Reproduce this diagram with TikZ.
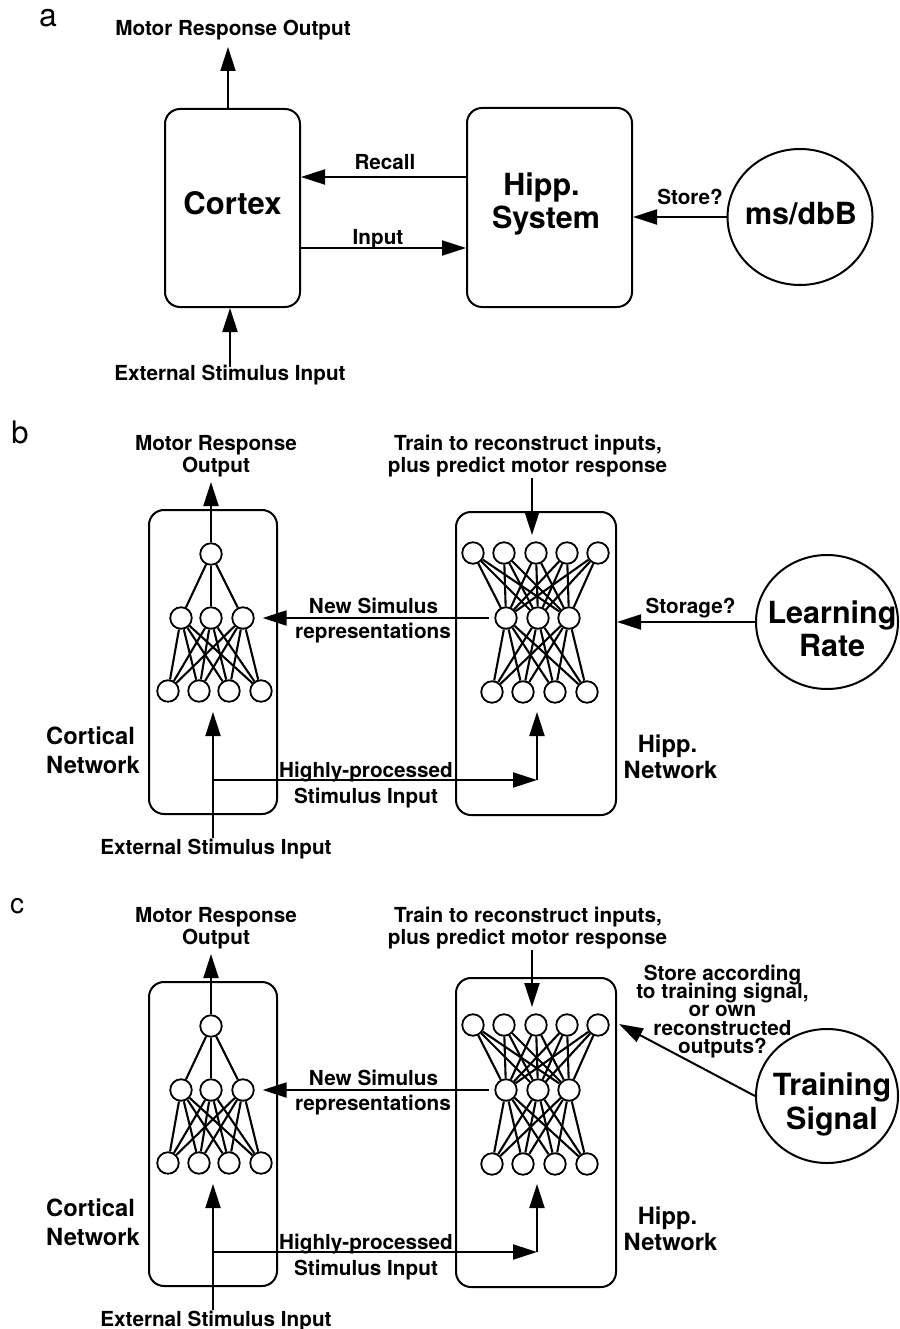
\documentclass[tikz,border=0pt]{standalone}
\usepackage{fontspec}
\setmainfont{TeX Gyre Heros}
\usetikzlibrary{arrows.meta,shapes.geometric}
\newcommand\netpanel[3]{%
  \node[box,minimum width=128pt,minimum height=304pt] (#1cbox) at (213,662) {};
  \node[box,minimum width=160pt,minimum height=#3] (#1hbox) at (536,#2) {};
  % cortical neurons
  \node[neuron] (#1ct) at (211,554) {};
  \node[neuron] (#1cm1) at (181,618) {};
  \node[neuron] (#1cm2) at (211,618) {};
  \node[neuron] (#1cm3) at (243,618) {};
  \node[neuron] (#1cb1) at (168,691) {};
  \node[neuron] (#1cb2) at (199,691) {};
  \node[neuron] (#1cb3) at (229,691) {};
  \node[neuron] (#1cb4) at (261,691) {};
  % hippocampal neurons
  \node[neuron] (#1ht1) at (473,553) {};
  \node[neuron] (#1ht2) at (504,553) {};
  \node[neuron] (#1ht3) at (536,553) {};
  \node[neuron] (#1ht4) at (567,553) {};
  \node[neuron] (#1ht5) at (598,553) {};
  \node[neuron] (#1hm1) at (506,618) {};
  \node[neuron] (#1hm2) at (538,618) {};
  \node[neuron] (#1hm3) at (569,618) {};
  \node[neuron] (#1hb1) at (492,692) {};
  \node[neuron] (#1hb2) at (523,692) {};
  \node[neuron] (#1hb3) at (555,692) {};
  \node[neuron] (#1hb4) at (587,692) {};
  \foreach \ii in {1,2,3}{%
    \draw[conn] (#1ct) -- (#1cm\ii);
    \foreach \jj in {1,2,3,4}{\draw[conn] (#1cm\ii) -- (#1cb\jj);}
    \foreach \jj in {1,2,3,4,5}{\draw[conn] (#1ht\jj) -- (#1hm\ii);}
    \foreach \jj in {1,2,3,4}{\draw[conn] (#1hm\ii) -- (#1hb\jj);}
  }
  % labels
  \node[lbl] (#1mot1) at (216,450) {Motor Response};
  \node[lbl] (#1mot2) at (216,472) {Output};
  \node[lbl] (#1tr1) at (528,450) {Train to reconstruct inputs,};
  \node[lbl] (#1tr2) at (527.5,472) {plus predict motor response};
  \node[lbl] (#1ns1) at (373.5,613) {New Simulus};
  \node[lbl] (#1ns2) at (373,638) {representations};
  \node[lbl] (#1hp1) at (366,777) {Highly-processed};
  \node[lbl] (#1hp2) at (366,803) {Stimulus Input};
  \node[lbl] (#1ext) at (216,854) {External Stimulus Input};
  \node[midlbl,anchor=base west] (#1cn1) at (46,744) {Cortical};
  \node[midlbl,anchor=base west] (#1cn2) at (46,773) {Network};
  \node[midlbl] (#1hn1) at (667.5,752) {Hipp.};
  \node[midlbl] (#1hn2) at (670.5,778) {Network};
  % connectors
  \coordinate (#1motip) at (211,482);
  \coordinate (#1trtop) at (532,478);
  \coordinate (#1trtip) at (532,535);
  \coordinate (#1exttip) at (213,712);
  \coordinate (#1split) at (213,780);
  \coordinate (#1corner) at (537,780);
  \coordinate (#1htip) at (537,712);
  \draw[arr] (#1ct) -- (#1motip);
  \draw[arr] (#1trtop) -- (#1trtip);
  \draw[arr] (#1exttip |- #1ext.north) -- (#1exttip);
  \draw[arr] (#1split) -- (#1corner);
  \draw[arr] (#1corner) -- (#1htip);
  \draw[arr,shorten <=5pt,shorten >=8pt] (#1hm1) -- (#1cm3);
}
\begin{document}
\begin{tikzpicture}[x=1pt,y=-1pt,
  box/.style={draw,rounded corners=15pt,line width=2pt,inner sep=0pt},
  neuron/.style={circle,draw,line width=1.8pt,minimum size=21.5pt,inner sep=0pt},
  conn/.style={line width=2.1pt},
  arr/.style={line width=2pt,-{Triangle[length=24pt,width=15pt]}},
  lbl/.style={font=\fontsize{20.7}{22}\selectfont\bfseries,anchor=base,inner sep=0pt},
  biglbl/.style={font=\fontsize{30.5}{32}\selectfont\bfseries,anchor=base,inner sep=0pt},
  midlbl/.style={font=\fontsize{23.7}{26}\selectfont\bfseries,anchor=base,inner sep=0pt},
  letter/.style={font=\fontsize{30}{32}\selectfont,anchor=base,inner sep=0pt},
  oval/.style={ellipse,draw,line width=2pt,inner sep=0pt,minimum width=143pt,minimum height=135pt}
]
\useasboundingbox (0,0) rectangle (899,1329);

% ---------------- panel a ----------------
\node[letter,font=\fontsize{32}{34}\selectfont] (la) at (48,27) {a};
\node[box,minimum width=135pt,minimum height=198pt] (cortex) at (232.5,208) {};
\node[box,minimum width=165pt,minimum height=199pt] (hsys) at (549.5,207.5) {};
\node[oval,minimum width=145pt,minimum height=136pt] (msdbb) at (800,217) {};
\node[biglbl,font=\fontsize{31}{33}\selectfont\bfseries] (cortexlbl) at (232.5,215) {Cortex};
\node[biglbl] (hsys1) at (541.5,196) {Hipp.};
\node[biglbl] (hsys2) at (546,229) {System};
\node[biglbl] (msdbblbl) at (801,225) {ms/dbB};
\node[lbl] (amot) at (233,36) {Motor Response Output};
\node[lbl] (aext) at (230,380) {External Stimulus Input};
\node[lbl] (arecall) at (385,170) {Recall};
\node[lbl] (ainput) at (378,245) {Input};
\node[lbl] (astore) at (690,205) {Store?};
\coordinate (amotip) at (228,47);
\coordinate (aextx) at (230,0);
\coordinate (rc) at (0,177);
\coordinate (ic) at (0,248);
\draw[arr] (cortex.north -| amotip) -- (amotip);
\draw[arr] ([yshift=-3pt]aext.north) -- (aextx |- cortex.south);
\draw[arr] (hsys.west |- rc) -- (cortex.east |- rc);
\draw[arr] (cortex.east |- ic) -- (hsys.west |- ic);
\draw[arr] (msdbb.west) -- (msdbb.west -| hsys.east);

% ---------------- panel b ----------------
\node[letter,font=\fontsize{31}{33}\selectfont] (lb) at (20,443) {b};
\netpanel{b}{663.5}{303pt}
\node[oval,minimum width=142pt,minimum height=134pt] (lr) at (827,622) {};
\node[biglbl] (lr1) at (832,623) {Learning};
\node[biglbl] (lr2) at (832,656) {Rate};
\node[lbl] (bstore) at (690.5,613) {Storage?};
\draw[arr] (lr.west) -- (lr.west -| bhbox.east);

% ---------------- panel c ----------------
\node[letter,font=\fontsize{28}{30}\selectfont] (lc) at (17,913) {c};
\begin{scope}[shift={(0,472)}]
\netpanel{c}{660.5}{309pt}
\end{scope}
\node[oval,minimum width=142pt,minimum height=134pt] (ts) at (827,1096) {};
\node[biglbl] (ts1) at (832,1095) {Training};
\node[biglbl] (ts2) at (832,1129) {Signal};
\node[lbl] (cs1) at (722.5,980) {Store according};
\node[lbl] (cs2) at (722.5,998.3) {to training signal,};
\node[lbl] (cs3) at (722.5,1016.6) {or own};
\node[lbl] (cs4) at (722.5,1035) {reconstructed};
\node[lbl] (cs5) at (722.5,1053) {outputs?};
\coordinate (cstip) at (619,1024);
\draw[arr] (ts.west) -- (cstip);
\end{tikzpicture}
\end{document}
